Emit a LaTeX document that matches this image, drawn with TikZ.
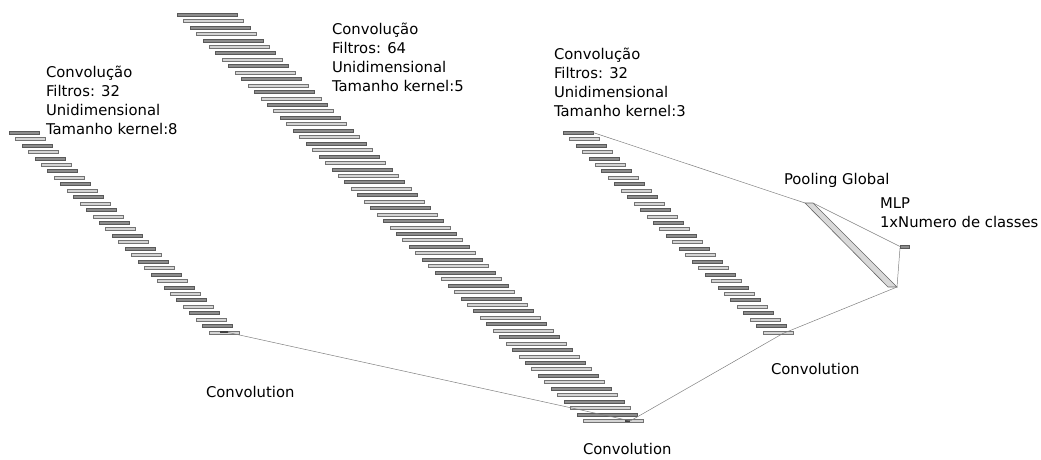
\documentclass[tikz,border=0pt]{standalone}
\usepackage{fontspec}
\setmainfont{DejaVu Sans}
\usetikzlibrary{calc}

\begin{document}
\begin{tikzpicture}[x=1pt,y=-1pt,inner sep=0pt,outer sep=0pt,
bardark/.style={draw=black!65,fill=black!45,line width=0.6pt,rectangle,minimum height=3pt,anchor=north west},
barlight/.style={draw=black!55,fill=black!17,line width=0.6pt,rectangle,minimum height=3pt,anchor=north west},
kernel/.style={fill=black!75,rectangle,minimum height=2pt,anchor=west},
wire/.style={draw=black!50,line width=0.5pt},
lbl/.style={align=left,anchor=base west,font=\fontsize{14.8}{19}\selectfont}]

\useasboundingbox (0,0) rectangle (1041,459);

% three convolution stacks
\foreach \i in {1,...,32}{
  \ifodd\i\def\bs{bardark}\else\def\bs{barlight}\fi
  \node[\bs,minimum width=30pt] (ca\i) at ({9+(\i-1)*6.45},{131+(\i-1)*6.45}) {};
  \node[\bs,minimum width=30pt] (cc\i) at ({563+(\i-1)*6.45},{131+(\i-1)*6.45}) {};
}
\foreach \i in {1,...,64}{
  \ifodd\i\def\bs{bardark}\else\def\bs{barlight}\fi
  \node[\bs,minimum width=60pt] (cb\i) at ({177+(\i-1)*6.45},{13+(\i-1)*6.45}) {};
}

\node[kernel,minimum width=8pt] (ka) at ($(ca32.west)+(11,0)$) {};
\node[kernel,minimum width=5pt] (kb) at ($(cb64.west)+(42,0)$) {};
\coordinate (kc) at ($(cc32.west)+(20,1)$);

% pooling and mlp
\coordinate (ptl) at (805,203);
\coordinate (ptr) at (813,203);
\coordinate (pbl) at (888,287);
\coordinate (pbr) at (897,287);
\draw[draw=black!60,fill=black!15,line width=0.6pt] (ptl) -- (ptr) -- (pbr) -- (pbl) -- cycle;
\node[bardark,minimum width=9pt] (mlp) at (900,245) {};

% connectors
\draw[wire] (cc1.east) -- (ptl);
\draw[wire] (ptr) -- (mlp.west);
\draw[wire] (mlp.south west) -- (pbr);
\draw[wire] (pbr) -- (kc);
\draw[wire] (kc) -- (kb.east);
\draw[wire] (kb.east) -- (ka.east);

% labels (base = last line)
\node[lbl] (ta) at (46,134) {Convolução\\Filtros: 32\\Unidimensional\\Tamanho kernel:8};
\node[lbl] (tb) at (332,91) {Convolução\\Filtros: 64\\Unidimensional\\Tamanho kernel:5};
\node[lbl] (tc) at (554,116) {Convolução\\Filtros: 32\\Unidimensional\\Tamanho kernel:3};
\node[lbl] (tp) at (784,184) {Pooling Global};
\node[lbl] (tm) at (880,227) {MLP\\1xNumero de classes};
\node[lbl] (la) at (206,397) {Convolution};
\node[lbl] (lb) at (583,454) {Convolution};
\node[lbl] (lc) at (771,374) {Convolution};

\end{tikzpicture}
\end{document}
